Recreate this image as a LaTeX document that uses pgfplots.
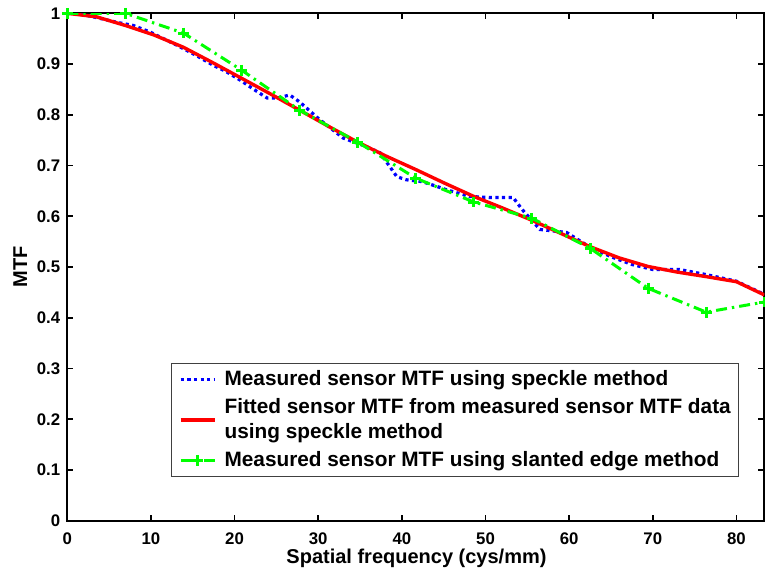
\documentclass[border=0pt]{standalone}
\usepackage{fontspec}
\setmainfont{Liberation Sans}
\usepackage{pgfplots}
\pgfplotsset{compat=1.18}
\definecolor{mblue}{rgb}{0,0,1}
\definecolor{mred}{rgb}{1,0,0}
\definecolor{mgreen}{rgb}{0,1,0}
\begin{document}
\begin{tikzpicture}
\useasboundingbox (-33.65pt,-25.65pt) rectangle (348.85pt,260.35pt);
\begin{axis}[
  at={(0,0)}, anchor=south west,
  scale only axis, width=348.5pt, height=253.7pt,
  xmin=0, xmax=83.333, ymin=0, ymax=1,
  xtick={0,10,20,30,40,50,60,70,80},
  ytick={0,0.1,0.2,0.3,0.4,0.5,0.6,0.7,0.8,0.9,1},
  tick align=inside, major tick length=3pt,
  axis line style={line width=0.85pt},
  every tick/.style={line width=0.85pt, black},
  /pgf/number format/assume math mode=true,
  tick label style={font=\bfseries\fontsize{8.4}{10}\selectfont},
  x tick label style={yshift=-2.4pt},
  label style={font=\bfseries\fontsize{10}{12}\selectfont},
  xlabel={Spatial frequency (cys/mm)},
  ylabel={MTF},
  xlabel style={at={(axis description cs:0.501,-0.0834)}, anchor=base},
  ylabel style={at={(axis description cs:-0.0674,0.5)}, anchor=center},
  legend cell align=left,
  legend style={at={(axis description cs:0.9641,0.0867)}, anchor=south east,
    draw=black!75, line width=0.5pt,
    font=\bfseries\fontsize{10.4}{12.5}\selectfont,
    inner xsep=4pt, inner ysep=3.5pt, row sep=4.8pt, column sep=4pt,
    nodes={inner sep=0pt}, cells={align=left}},
]
\addplot[mblue, line width=1.6pt, dash pattern=on 1.6pt off 1.7pt] coordinates {
(0,1.000) (2.0,0.997) (3.9,0.990) (6.0,0.982) (7.9,0.976) (9.9,0.963)
(11.5,0.950) (13.1,0.937) (15.3,0.918) (17.4,0.898) (19.0,0.885) (20.7,0.868)
(22.3,0.850) (23.9,0.833) (25.1,0.833) (26.6,0.839) (27.8,0.825) (30.2,0.790)
(33.0,0.754) (35.8,0.737) (37.4,0.725) (39.4,0.678) (40.5,0.672) (42.5,0.668)
(45.4,0.652) (48.1,0.639) (50.5,0.637) (53.3,0.637) (54.4,0.613) (56.5,0.574)
(59.7,0.568) (62.6,0.538) (65.2,0.519) (67.5,0.505) (70.0,0.495) (73.2,0.495)
(76.4,0.485) (80.0,0.472) (83.333,0.446)};
\addlegendentry{Measured sensor MTF using speckle method}
\addplot[mred, line width=1.7pt] coordinates {
(0,1.000) (3.5,0.993) (6.94,0.976) (10.4,0.957) (13.89,0.933) (17.36,0.903)
(20.83,0.872) (24.3,0.841) (27.78,0.809) (31.25,0.777) (34.72,0.746) (38.19,0.718)
(41.67,0.692) (45.14,0.665) (48.61,0.639) (52.08,0.616) (55.56,0.592) (59.03,0.566)
(62.5,0.540) (65.97,0.518) (69.44,0.501) (72.92,0.490) (76.39,0.481) (80.0,0.471)
(83.333,0.445)};
\addlegendentry{Fitted sensor MTF from measured sensor MTF data\\using speckle method}
\addplot[mgreen, line width=1.5pt, dash pattern=on 5.5pt off 2.5pt on 1.2pt off 2.5pt,
  mark=+, mark size=2.7pt, mark options={solid, line width=1.5pt}] coordinates {
(0,1.000) (6.944,1.000) (13.889,0.961) (20.833,0.888) (27.778,0.809) (34.722,0.746)
(41.667,0.675) (48.611,0.628) (55.556,0.596) (62.5,0.537) (69.444,0.458)
(76.389,0.411) (83.333,0.431)};
\addlegendentry{Measured sensor MTF using slanted edge method}
\end{axis}
\end{tikzpicture}
\end{document}
